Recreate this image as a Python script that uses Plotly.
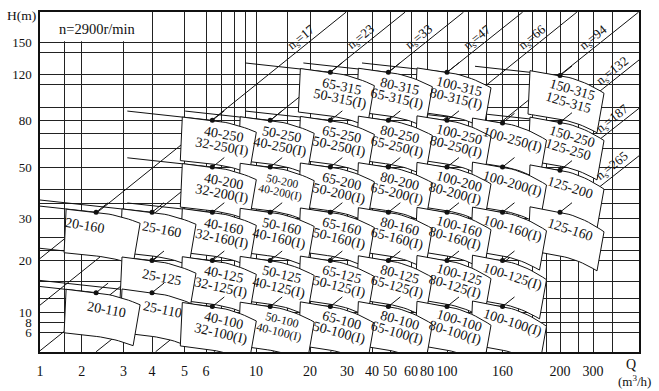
import numpy as np
import plotly.graph_objects as go

# ---------------- data ----------------
Q_TICKS = [1, 2, 3, 4, 5, 6, 10, 20, 30, 40, 50, 60, 80, 100, 160, 200, 300]
H_TICKS = [150, 120, 80, 50, 30, 20, 10, 8, 6]
Q_GRID_EXTRA = [1.5, 7, 8, 9, 15, 120, 140, 170, 180, 190, 250, 380]
H_GRID_EXTRA = [140, 110, 90, 70, 60, 40, 35, 25, 22, 15, 12]

PUMP_MAIN = ["65-315", "80-315", "100-315", "150-315",
             "40-250", "50-250", "65-250", "80-250", "100-250", "100-250(I)", "150-250",
             "40-200", "50-200", "65-200", "80-200", "100-200", "100-200(I)", "125-200",
             "20-160", "25-160", "40-160", "50-160", "65-160", "80-160", "100-160", "100-160(I)", "125-160",
             "25-125", "40-125", "50-125", "65-125", "80-125", "100-125", "100-125(I)",
             "40-100", "50-100", "65-100", "80-100", "100-100", "100-100(I)",
             "20-110", "25-110"]
PUMP_ALT = ["50-315(I)", "65-315(I)", "80-315(I)", "125-315",
            "32-250(I)", "40-250(I)", "50-250(I)", "65-250(I)", "80-250(I)", "", "125-250",
            "32-200(I)", "40-200(I)", "50-200(I)", "65-200(I)", "80-200(I)", "", "",
            "", "", "32-160(I)", "40-160(I)", "50-160(I)", "65-160(I)", "80-160(I)", "", "",
            "", "32-125(I)", "40-125(I)", "50-125(I)", "65-125(I)", "80-125(I)", "",
            "32-100(I)", "40-100(I)", "50-100(I)", "65-100(I)", "80-100(I)", "",
            "", ""]
PUMP_Q = [25, 49, 100, 200,
          6.4, 12, 25, 49, 100, 160, 200,
          6.4, 12, 25, 49, 100, 160, 200,
          2.3, 4, 6.4, 12, 25, 49, 100, 160, 200,
          4, 6.4, 12, 25, 49, 100, 160,
          6.4, 12, 25, 49, 100, 160,
          2.3, 4]
PUMP_H = [122, 122, 122, 119,
          80, 80, 80, 80, 80, 78, 78.5,
          50, 50, 50, 50, 50, 50, 48.5,
          32, 32, 32, 32, 32, 32, 32, 32, 32,
          20, 20, 20, 20, 20, 20, 20,
          10.8, 10.8, 10.8, 10.8, 10.8, 10.8,
          13, 13]

NS_VALUES = [17, 23, 33, 47, 66, 94, 132, 187, 265]
NS_Q_START = [1, 1, 1, 2.3, 4.1, 6.5, 12.4, 25, 50]
NS_H_START = [20.4, 11, 3.5, 3.4, 3.4, 3.4, 3.4, 3.4, 3.4]
NS_Q_END = [29.7, 57, 115, 173, 246, 525, 528, 528, 528]
NS_H_END = [186, 186, 186, 186, 186, 186, 133, 89, 56]

# ---------------- the printed (non-uniform) scale ----------------
Q_TICK_POS = [40, 81.7, 123.5, 152, 184.5, 206, 256, 310, 347, 372, 390, 411, 427, 447, 502.5, 560, 593]
H_TICK_POS = [41, 73, 119, 166, 218, 260, 312, 322, 332]
X_LO, X_HI = 40, 639
Y_TOP, Y_BOT = 10, 352
FONT = "Liberation Serif"


def scale(v, ticks, pos):
    lt = np.log10(np.asarray(ticks, float))
    p = np.asarray(pos, float)
    o = np.argsort(lt)
    lt, p = lt[o], p[o]
    lv = np.log10(np.asarray(v, float))
    out = np.interp(lv, lt, p)
    out = np.where(lv < lt[0], p[0] + (lv - lt[0]) * (p[1] - p[0]) / (lt[1] - lt[0]), out)
    out = np.where(lv > lt[-1], p[-1] + (lv - lt[-1]) * (p[-1] - p[-2]) / (lt[-1] - lt[-2]), out)
    return out


def qx(q):
    return scale(q, Q_TICKS, Q_TICK_POS)


def hy(h):
    return scale(h, H_TICKS, H_TICK_POS)


fig = go.Figure()
BLACK = "#111111"

# ---- specific speed lines ----
xs0, ys0 = qx(NS_Q_START), hy(NS_H_START)
xs1, ys1 = qx(NS_Q_END), hy(NS_H_END)
lx, ly = [], []
for a, b, c, d in zip(xs0, ys0, xs1, ys1):
    lx += [a, c, None]
    ly += [b, d, None]
fig.add_trace(go.Scatter(x=lx, y=ly, mode="lines", line=dict(color=BLACK, width=1),
                         hoverinfo="skip"))

px = qx(PUMP_Q)
py = hy(PUMP_H)


def arc(dx, k):
    dx = np.asarray(dx, float)
    return np.where(dx < 0, 0.1 * k * dx, 0.1 * k * dx + 0.0033 * k * dx ** 2)


def tilt(x, y):
    return 0.85 + 0.1 * (x - 97) / 58.5 + 0.06 * (y - 70) / 47


# ---- extension of each pump's top curve to the left ----
ex, ey = [], []
for q, x, y in zip(PUMP_Q, px, py):
    x_end = X_LO if q <= 4 else x - 85
    xx = np.linspace(x_end, x, 8)
    ex += list(xx) + [None]
    ey += list(y + 0.11 * (xx - x)) + [None]
fig.add_trace(go.Scatter(x=ex, y=ey, mode="lines", line=dict(color=BLACK, width=1),
                         hoverinfo="skip"))

# ---- tiles ----
groups = [m.split("-")[1].split("(")[0] for m in PUMP_MAIN]
gmean = {g: np.mean([py[i] for i in range(len(groups)) if groups[i] == g]) for g in set(groups)}
order = sorted(range(len(PUMP_MAIN)), key=lambda i: (gmean[groups[i]], -px[i]))

for i in order:
    x0, y0 = px[i], py[i]
    k = tilt(x0, y0)
    dt = np.linspace(-30, 44, 20)
    db = np.linspace(37, -32, 20)
    tx = list(x0 + dt) + list(x0 + db) + [x0 - 30]
    ty = list(y0 + arc(dt, k)) + list(y0 + 44 + arc(db, k)) + [y0 + arc([-30], k)[0]]
    fig.add_trace(go.Scatter(x=tx, y=ty, mode="lines", fill="toself", fillcolor="white",
                             line=dict(color=BLACK, width=1), hoverinfo="skip"))

# ---- short marks and design points ----
sx, sy = [], []
for x, y in zip(px, py):
    sx += [x, x + 12, None]
    sy += [y, y - 9.6, None]
fig.add_trace(go.Scatter(x=sx, y=sy, mode="lines", line=dict(color=BLACK, width=1),
                         hoverinfo="skip"))
fig.add_trace(go.Scatter(x=px, y=py, mode="markers", marker=dict(color=BLACK, size=5),
                         hoverinfo="skip"))

annotations = []
SMALL = {"50-200": 11.5, "50-100": 12}
SHIFT = {"20-160": (-21, -4)}
for i in range(len(PUMP_MAIN)):
    x0, y0 = px[i], py[i]
    k = tilt(x0, y0)
    ang = -2 + 11 * k
    two = PUMP_ALT[i] != ""
    ox, oy = (12, 14) if two else (10, 17)
    sx_, sy_ = SHIFT.get(PUMP_MAIN[i], (0, 0))
    cx, cy = x0 + ox + sx_, y0 + oy + sy_
    fs = SMALL.get(PUMP_MAIN[i], 14)
    annotations.append(dict(x=cx, y=cy, xref="x", yref="y", text=PUMP_MAIN[i], showarrow=False,
                            xanchor="center", yanchor="middle",
                            textangle=ang, font=dict(family=FONT, size=fs, color=BLACK)))
    if two:
        r = np.radians(ang)
        d = 13.5 if fs >= 13 else 12
        annotations.append(dict(x=cx - d * np.sin(r), y=cy + d * np.cos(r), xref="x", yref="y",
                                text=PUMP_ALT[i], showarrow=False, textangle=ang,
                                xanchor="center", yanchor="middle",
                                font=dict(family=FONT, size=fs, color=BLACK)))

# ns labels
for n, a, b, c, d in zip(NS_VALUES, xs0, ys0, xs1, ys1):
    slope = (d - b) / (c - a)
    ang = np.degrees(np.arctan(slope))
    if d < Y_TOP + 2:
        yy = 42
        xx = a + (yy - b) / slope
    else:
        xx = 617
        yy = b + slope * (xx - a)
    annotations.append(dict(x=xx - 5, y=yy - 6.5, xref="x", yref="y",
                            text="n<sub>s</sub>=%d" % n, showarrow=False, textangle=ang,
                            xanchor="center", yanchor="middle",
                            font=dict(family=FONT, size=13, color=BLACK)))

W = X_HI - X_LO
H = Y_BOT - Y_TOP


def paper(xp, yp):
    return (xp - X_LO) / W, (Y_BOT - yp) / H


for txt, (xp, yp), fs in [("H(m)", (21, 14), 13.5), ("Q", (631, 365), 14),
                          ("(m<sup>3</sup>/h)", (634, 381), 13)]:
    xx, yy = paper(xp, yp)
    annotations.append(dict(x=xx, y=yy, xref="paper", yref="paper", text=txt, showarrow=False,
                            xanchor="center", yanchor="middle",
                            font=dict(family=FONT, size=fs, color=BLACK)))
annotations.append(dict(x=97, y=27, xref="x", yref="y", text="n=2900r/min", showarrow=False,
                        xanchor="center", yanchor="middle",
                        font=dict(family=FONT, size=14.5, color=BLACK)))

GRID = "#222222"
fig.update_layout(
    width=659, height=391,
    margin=dict(l=X_LO, r=659 - X_HI, t=Y_TOP, b=391 - Y_BOT),
    paper_bgcolor="white", plot_bgcolor="white", showlegend=False,
    annotations=annotations,
    shapes=[dict(type="rect", xref="x", yref="y", x0=X_LO, x1=150, y0=Y_TOP, y1=39.5,
                 fillcolor="white", line=dict(width=0), layer="between")],
    xaxis=dict(range=[X_LO, X_HI], tickmode="array", tickvals=list(qx(Q_TICKS)),
               ticktext=[str(v) for v in Q_TICKS], tickangle=0, ticks="",
               ticklabelstandoff=5,
               showgrid=True, gridcolor=GRID, gridwidth=1,
               minor=dict(tickmode="array", tickvals=list(qx(Q_GRID_EXTRA)), showgrid=True,
                          gridcolor=GRID, gridwidth=1, ticks=""),
               showline=True, linecolor=BLACK, linewidth=1.5, mirror=True, zeroline=False,
               tickfont=dict(family=FONT, size=14, color=BLACK)),
    yaxis=dict(range=[Y_BOT, Y_TOP], tickmode="array", tickvals=list(hy(H_TICKS)),
               ticktext=[str(v) for v in H_TICKS], ticks="", ticklabelstandoff=4,
               showgrid=True, gridcolor=GRID, gridwidth=1,
               minor=dict(tickmode="array", tickvals=list(hy(H_GRID_EXTRA)), showgrid=True,
                          gridcolor=GRID, gridwidth=1, ticks=""),
               showline=True, linecolor=BLACK, linewidth=1.5, mirror=True, zeroline=False,
               tickfont=dict(family=FONT, size=13, color=BLACK)),
)

fig.write_html("out.html")
